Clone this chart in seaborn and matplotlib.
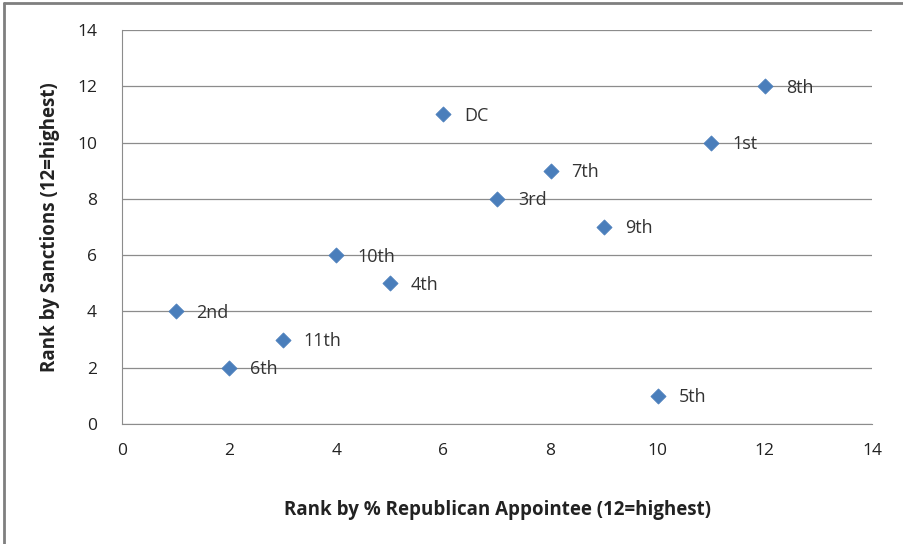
import matplotlib
matplotlib.use("Agg")
import matplotlib.pyplot as plt
import seaborn as sns
import pandas as pd
from matplotlib.lines import Line2D

# circuit ranks
circuits = ["2nd", "6th", "11th", "10th", "4th", "DC", "3rd", "7th", "9th", "5th", "1st", "8th"]
rank_republican = [1, 2, 3, 4, 5, 6, 7, 8, 9, 10, 11, 12]
rank_sanctions = [4, 2, 3, 6, 5, 11, 8, 9, 7, 1, 10, 12]

x_ticks = [0, 2, 4, 6, 8, 10, 12, 14]
y_ticks = [0, 2, 4, 6, 8, 10, 12, 14]

df = pd.DataFrame({"circuit": circuits, "rep": rank_republican, "sanc": rank_sanctions})

sns.set_style("white")
plt.rcParams["font.family"] = ["Open Sans", "DejaVu Sans"]

fig = plt.figure(figsize=(9.04, 5.44), dpi=100)
ax = fig.add_axes([0.135, 0.2206, 0.8296, 0.7243])

sns.scatterplot(data=df, x="rep", y="sanc", marker="D", s=60, color="#4A7EBB",
                edgecolor="#4A7EBB", linewidth=0.5, ax=ax, zorder=3)

for _, r in df.iterrows():
    ax.annotate(r["circuit"], (r["rep"], r["sanc"]), xytext=(15, -1),
                textcoords="offset points", va="center", ha="left",
                fontsize=13, color="#333333")

ax.set_xlim(0, 14)
ax.set_ylim(0, 14)
ax.set_xticks(x_ticks)
ax.set_yticks(y_ticks)
ax.tick_params(axis="both", labelsize=12.5, length=0, colors="#222222")
ax.tick_params(axis="x", pad=14)
ax.tick_params(axis="y", pad=18)
ax.yaxis.grid(True, color="#8c8c8c", linewidth=0.9)
ax.xaxis.grid(False)
for side in ["top", "right"]:
    ax.spines[side].set_visible(False)
ax.spines["left"].set_color("#8c8c8c")
ax.spines["bottom"].set_color("#8c8c8c")

ax.set_xlabel("Rank by % Republican Appointee (12=highest)", fontsize=13.5,
              fontweight="bold", labelpad=29, color="#222222")
ax.set_ylabel("Rank by Sanctions (12=highest)", fontsize=13.5,
              fontweight="bold", labelpad=12, color="#222222")

# outer chart frame (top and left edges visible)
fig.add_artist(Line2D([0.004, 1.0], [0.994, 0.994], transform=fig.transFigure,
                      color="#7f7f7f", linewidth=2))
fig.add_artist(Line2D([0.004, 0.004], [0.0, 0.994], transform=fig.transFigure,
                      color="#7f7f7f", linewidth=2))

fig.savefig("out.png", dpi=100)
